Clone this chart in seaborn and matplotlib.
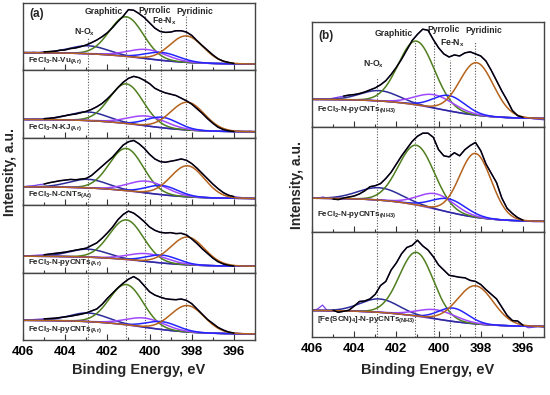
import numpy as np
import pandas as pd
import matplotlib
matplotlib.use("Agg")
import matplotlib.pyplot as plt
from matplotlib.ticker import MultipleLocator
import seaborn as sns

# binding energy grid of the measured spectra (eV), 406 -> 395
energy = np.arange(406.0, 394.99, -0.25)

vu_ar = [27, 26, 27.5, 26.5, 28, 28.5, 29, 30.5, 31, 33, 34, 36, 38.5, 42, 46, 51,
         57, 65, 74, 82, 92, 91, 86, 80, 72, 64, 59, 57.5, 58, 60, 60, 58, 53, 45,
         37.5, 30.5, 23.5, 17.5, 14, 12, 10.5, 9.7, 9.3, 10, 9.3]
kj_ar = [28, 27, 28.5, 28, 29, 29.5, 30.5, 32, 33.5, 35, 36, 38, 40, 43, 47, 52,
         59, 67, 76, 84, 90, 93, 91, 87, 82, 75, 71, 68, 66, 64, 60, 56, 51, 44,
         37, 29, 22, 16, 12.5, 10.5, 9.5, 9.5, 9, 10, 9]
cnts_ar = [28, 29, 29.5, 31, 32, 34, 35.5, 37, 38, 39, 38.5, 39.5, 40.5, 45, 52, 59,
           66, 73, 82, 91, 96, 98, 93, 86, 77, 70, 66, 65, 66.5, 68, 70, 68, 63, 56,
           48, 40, 32, 25, 19, 15, 13, 12, 11, 10, 9.5]
pycnts_ar1 = [25, 25.5, 26, 26.5, 27, 28, 29, 30, 31, 32.5, 34, 35.5, 37, 41, 45, 52,
              60, 69, 80, 88, 93, 90, 84, 77, 69, 64, 61, 60, 60.5, 59, 59.5, 57, 51,
              44, 36, 29, 22, 16.5, 13, 11, 10, 10, 9.5, 10, 9.5]
pycnts_ar2 = [30, 30.5, 31, 31.5, 32, 32.5, 33, 34, 35, 36, 37.5, 39, 41, 44, 47, 54,
              63, 71, 79, 86, 92, 96, 91, 82, 73, 68, 65, 62.5, 61.5, 61, 62, 60, 55,
              47, 39, 31, 25, 19, 15, 12, 10.5, 10, 9.5, 8.5, 9.5]
pycnts_nh3 = [27, 26.5, 27.5, 27, 28, 29, 30, 31, 31.5, 32.5, 34, 36, 38, 41, 45, 51,
              58, 66, 75, 84, 90, 95, 94, 85, 77, 71, 68, 70, 69, 72, 73, 71, 69, 64,
              55, 45, 35, 26, 16, 11, 9.5, 9, 8, 7.5, 7]
fecl2_nh3 = [33, 32.5, 34, 33, 32, 31.5, 33, 34, 35, 37, 40, 44, 45, 47, 52, 58,
             66, 74, 81, 88, 93, 96, 96, 92, 80, 74, 73, 77, 74, 80, 84, 87, 79, 66,
             57, 48, 33, 23, 18, 14, 11.5, 10.5, 10, 10, 10.5]
fescn_nh3 = [26, 27, 31, 25, 26, 24, 25, 26, 30, 34.5, 35, 37, 41.5, 50, 54, 65,
             72, 81, 87, 89, 94, 88.5, 84.5, 78, 70, 65, 60, 59, 58, 57.5, 55, 54, 51,
             46, 41.5, 37, 29, 21, 16, 15.5, 11.5, 9, 9.5, 10.5, 9.5]

# Shirley-type background: (high-BE level, low-BE level, centre, width)
bg_params = [(27, 9.5, 400.3, 1.2), (28, 9, 400.3, 1.2), (28, 10, 400.3, 1.2),
             (25, 9.5, 400.3, 1.2), (30, 9, 400.3, 1.2),
             (27, 8, 400.0, 1.2), (33, 10, 400.0, 1.2), (26, 10, 400.3, 1.3)]

# fitted peaks (centre eV, height above background, sigma) : N-Ox, graphitic, pyrrolic, Fe-Nx, pyridinic
peaks = [
    [(402.9, 12, 0.9), (401.1, 60, 0.8), (400.1, 14, 0.9), (399.4, 12, 0.8), (398.25, 40, 0.8)],
    [(402.9, 13, 0.9), (401.1, 60, 0.8), (400.1, 15, 0.9), (399.4, 16, 0.75), (398.2, 42, 0.8)],
    [(402.9, 13, 0.9), (401.1, 64, 0.8), (400.1, 18, 0.9), (399.4, 14, 0.75), (398.2, 47, 0.8)],
    [(402.9, 12, 0.9), (401.1, 60, 0.8), (400.1, 12, 0.9), (399.4, 12, 0.75), (398.2, 42, 0.8)],
    [(402.9, 13, 0.9), (401.1, 61, 0.8), (400.2, 14, 0.9), (399.4, 12, 0.75), (398.2, 40, 0.8)],
    [(402.8, 10, 0.9), (401.05, 62, 0.85), (400.2, 13, 0.9), (399.5, 15, 0.75), (398.2, 51, 0.8)],
    [(402.8, 12, 1.0), (401.05, 58, 0.85), (400.1, 15, 0.85), (399.5, 13, 0.8), (398.25, 62, 0.75)],
    [(402.8, 13, 0.9), (401.05, 62, 0.8), (400.1, 9, 0.9), (399.3, 13, 0.7), (398.25, 37, 0.85)],
]

# fit windows (black trace)
windows = [(405.2, 395.8)] * 5 + [(404.7, 396.0), (405.1, 395.9), (405.1, 396.0)]

spectra = [vu_ar, kj_ar, cnts_ar, pycnts_ar1, pycnts_ar2, pycnts_nh3, fecl2_nh3, fescn_nh3]
sample_labels = [r"FeCl$_3$-N-Vu$_{(Ar)}$", r"FeCl$_3$-N-KJ$_{(Ar)}$",
                 r"FeCl$_3$-N-CNTs$_{(Ar)}$", r"FeCl$_3$-N-pyCNTs$_{(Ar)}$",
                 r"FeCl$_3$-N-pyCNTs$_{(Ar)}$", r"FeCl$_3$-N-pyCNTs$_{(NH3)}$",
                 r"FeCl$_2$-N-pyCNTs$_{(NH3)}$", r"[Fe(SCN)$_4$]-N-pyCNTs$_{(NH3)}$"]

peak_names = [r"N-O$_x$", "Graphitic", "Pyrrolic", r"Fe-N$_x$", "Pyridinic"]
peak_lines = [402.9, 401.1, 400.2, 399.45, 398.25]
peak_colors = ["#2c2c9a", "#4f7f1e", "#a048ff", "#2525ff", "#b5621c"]
bg_color = "#7a40f2"

sns.set_style("white")
plt.rcParams["font.family"] = ["Liberation Sans", "DejaVu Sans"]
plt.rcParams["font.weight"] = "bold"
plt.rcParams["mathtext.fontset"] = "custom"
plt.rcParams["mathtext.rm"] = "Liberation Sans:bold"
plt.rcParams["mathtext.it"] = "Liberation Sans:bold"
plt.rcParams["mathtext.bf"] = "Liberation Sans:bold"

W, H = 550, 395
fig = plt.figure(figsize=(5.5, 3.95), dpi=100)

e_fine = np.linspace(406, 395, 441)


def background(e, hi, lo, c, w):
    return lo + (hi - lo) / (1 + np.exp(-(e - c) / w))


def make_axes(x_px, top_px, bottom_px, n):
    step = (bottom_px - top_px) / n
    axes = []
    for i in range(n):
        t = top_px + i * step
        axes.append(fig.add_axes([x_px / W, 1 - (t + step) / H, 232 / W, step / H]))
    return axes


left_axes = make_axes(23, 3, 340, 5)
right_axes = make_axes(312, 22, 337, 3)
all_axes = left_axes + right_axes

for k, ax in enumerate(all_axes):
    df = pd.DataFrame({"E": energy, "I": spectra[k]})
    bg = background(e_fine, *bg_params[k])
    # raw spectrum in purple, full range
    sns.lineplot(data=df, x="E", y="I", ax=ax, color=bg_color, lw=0.9,
                 estimator=None, sort=False)
    sns.lineplot(x=e_fine, y=bg, ax=ax, color=bg_color, lw=1.1, estimator=None, sort=False)
    for (c, a, s), col in zip(peaks[k], peak_colors):
        comp = bg + a * np.exp(-0.5 * ((e_fine - c) / s) ** 2)
        sns.lineplot(x=e_fine, y=comp, ax=ax, color=col, lw=1.1, estimator=None, sort=False)
    hi, lo = windows[k]
    fit = df[(df["E"] <= hi) & (df["E"] >= lo)]
    sns.lineplot(data=fit, x="E", y="I", ax=ax, color="black", lw=1.1,
                 estimator=None, sort=False, zorder=5)

    ax.set_xlim(406, 395)
    ax.set_ylim(0, 102)
    ax.set_yticks([])
    ax.set_xlabel("")
    ax.set_ylabel("")
    ax.xaxis.set_major_locator(MultipleLocator(2))
    ax.xaxis.set_minor_locator(MultipleLocator(1))
    ax.tick_params(axis="x", which="both", direction="in", bottom=True, top=False,
                   labelsize=9.5, pad=4, colors="#333333")
    ax.tick_params(axis="x", which="major", length=4, width=0.8)
    ax.tick_params(axis="x", which="minor", length=2, width=0.8)
    for sp in ax.spines.values():
        sp.set_color("#444444")
        sp.set_linewidth(1.0)
    for lab in ax.get_xticklabels():
        lab.set_fontweight("bold")
        lab.set_color("black")

    top_panel = k in (0, 5)
    for j, xv in enumerate(peak_lines):
        ymax = [0.48, 0.82, 0.82, 0.64, 0.82][j] if top_panel else 1.0
        ax.axvline(xv, ymin=0, ymax=ymax, color="#555555", lw=0.8, ls=(0, (1, 1.5)), zorder=1)

    ax.text(405.75, 0.15 if k < 5 else 0.17, sample_labels[k], transform=ax.get_xaxis_transform(),
            fontsize=5.8, fontweight="bold", ha="left", va="center")

    last = k in (4, 7)
    if not last:
        ax.tick_params(axis="x", labelbottom=False)

# peak labels in the top panels
label_pos = [(403.1, 0.56), (401.25, 0.87), (399.75, 0.89), (399.3, 0.73), (397.85, 0.88)]
label_pos_b = [(403.1, 0.60), (401.2, 0.89), (399.75, 0.93), (399.35, 0.80), (397.85, 0.92)]
for ax, pos, tag, ty in [(left_axes[0], label_pos, "(a)", 0.84), (right_axes[0], label_pos_b, "(b)", 0.87)]:
    for (xv, yv), name in zip(pos, peak_names):
        ha = "right" if name == "Graphitic" else "center"
        ax.text(xv, yv, name, transform=ax.get_xaxis_transform(), fontsize=6.2,
                fontweight="bold", ha=ha, va="center")
    ax.text(405.7, ty, tag, transform=ax.get_xaxis_transform(), fontsize=8.5,
            fontweight="bold", ha="left", va="center")

fig.text(10 / W, 1 - 172 / H, "Intensity, a.u.", rotation=90, fontsize=10,
         fontweight="bold", ha="center", va="center")
fig.text(297 / W, 1 - 185 / H, "Intensity, a.u.", rotation=90, fontsize=10,
         fontweight="bold", ha="center", va="center")
fig.text(139 / W, 1 - 370 / H, "Binding Energy, eV", fontsize=10.5,
         fontweight="bold", ha="center", va="center")
fig.text(428 / W, 1 - 370 / H, "Binding Energy, eV", fontsize=10.5,
         fontweight="bold", ha="center", va="center")

fig.savefig("out.png", dpi=100)
